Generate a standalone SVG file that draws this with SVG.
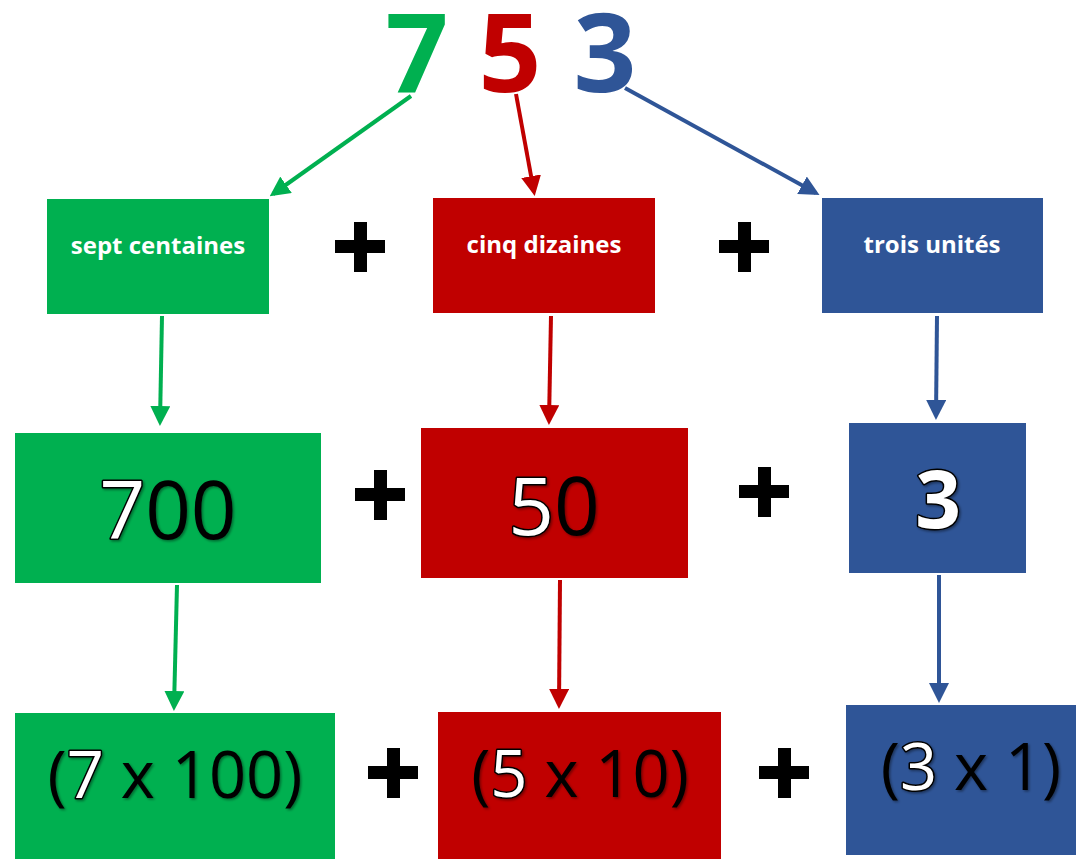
<svg xmlns="http://www.w3.org/2000/svg" width="1079" height="859" viewBox="0 0 1079 859">
<defs>
<style>
.g{fill:#00B050}.r{fill:#C00000}.b{fill:#2F5597}
.lbl{font-family:"Open Sans","Liberation Sans",sans-serif;font-weight:bold;font-size:24px;fill:#fff;text-anchor:middle}
.big{font-family:"Open Sans","Liberation Sans",sans-serif;font-size:80px;fill:#000;text-anchor:middle}
.mid{font-family:"Open Sans","Liberation Sans",sans-serif;font-size:65px;fill:#000;text-anchor:middle}
.wo{fill:#fff;stroke:#000;stroke-width:3;paint-order:stroke;stroke-linejoin:round}
.top{font-family:"Open Sans","Liberation Sans",sans-serif;font-weight:bold;font-size:110px;text-anchor:middle}
.plus{fill:#000}
.cg{stroke:#00B050;stroke-width:4;fill:none}
.cr{stroke:#C00000;stroke-width:4;fill:none}
.cb{stroke:#2F5597;stroke-width:4;fill:none}
</style>
<marker id="ag" markerWidth="5" markerHeight="5" refX="4" refY="2.5" orient="auto" markerUnits="strokeWidth"><path d="M0,0 L5,2.5 L0,5 Z" fill="#00B050"/></marker>
<marker id="ar" markerWidth="5" markerHeight="5" refX="4" refY="2.5" orient="auto" markerUnits="strokeWidth"><path d="M0,0 L5,2.5 L0,5 Z" fill="#C00000"/></marker>
<marker id="ab" markerWidth="5" markerHeight="5" refX="4" refY="2.5" orient="auto" markerUnits="strokeWidth"><path d="M0,0 L5,2.5 L0,5 Z" fill="#2F5597"/></marker>
<filter id="sh" x="-10%" y="-10%" width="130%" height="130%"><feDropShadow dx="1.5" dy="1.5" stdDeviation="1" flood-color="#000" flood-opacity="0.4"/></filter>
<symbol id="plus" viewBox="0 0 50 50"><rect x="19" y="0" width="13" height="50"/><rect x="0" y="18" width="50" height="13"/></symbol>
</defs>
<rect width="1079" height="859" fill="#fff"/>

<g id="digits">
<text class="top" x="417" y="92" fill="#00B050">7</text>
<text class="top" x="510" y="92" fill="#C00000">5</text>
<text class="top" x="605" y="92" fill="#2F5597">3</text>
</g>

<g id="connectors">
<path class="cg" d="M411,96 L273,194" marker-end="url(#ag)"/>
<path class="cr" d="M516,94 L534,192" marker-end="url(#ar)"/>
<path class="cb" d="M625,88 L816,193" marker-end="url(#ab)"/>
<path class="cg" d="M162,316 L160,422" marker-end="url(#ag)"/>
<path class="cr" d="M551,316 L549,421" marker-end="url(#ar)"/>
<path class="cb" d="M937,316 L936,416" marker-end="url(#ab)"/>
<path class="cg" d="M177,585 L174,707" marker-end="url(#ag)"/>
<path class="cr" d="M560,580 L559,705" marker-end="url(#ar)"/>
<path class="cb" d="M939,575 L939,699" marker-end="url(#ab)"/>
</g>

<g id="n-sept">
<rect class="g" x="47" y="199" width="222" height="115"/>
<text class="lbl" x="158" y="254">sept centaines</text>
</g>
<g id="n-cinq">
<rect class="r" x="433" y="198" width="222" height="115"/>
<text class="lbl" x="544" y="253">cinq dizaines</text>
</g>
<g id="n-trois">
<rect class="b" x="822" y="198" width="221" height="115"/>
<text class="lbl" x="932" y="253">trois unités</text>
</g>

<g id="n-700">
<rect class="g" x="15" y="433" width="306" height="150"/>
<text class="big" x="168" y="539" filter="url(#sh)"><tspan class="wo">7</tspan>00</text>
</g>
<g id="n-50">
<rect class="r" x="421" y="428" width="267" height="150"/>
<text class="big" x="554" y="535" filter="url(#sh)"><tspan class="wo">5</tspan>0</text>
</g>
<g id="n-3">
<rect class="b" x="849" y="423" width="177" height="150"/>
<text class="big" x="938" y="528" font-weight="bold" filter="url(#sh)"><tspan class="wo">3</tspan></text>
</g>

<g id="n-7x100">
<rect class="g" x="15" y="713" width="320" height="146"/>
<text class="mid" x="175" y="798" filter="url(#sh)">(<tspan class="wo">7</tspan> x 100)</text>
</g>
<g id="n-5x10">
<rect class="r" x="438" y="712" width="283" height="147"/>
<text class="mid" x="580" y="797" filter="url(#sh)">(<tspan class="wo">5</tspan> x 10)</text>
</g>
<g id="n-3x1">
<rect class="b" x="846" y="705" width="230" height="150"/>
<text class="mid" x="971" y="790" filter="url(#sh)">(<tspan class="wo">3</tspan> x 1)</text>
</g>

<g id="plus-signs" class="plus">
<use href="#plus" x="335" y="222" width="50" height="50"/>
<use href="#plus" x="719" y="222" width="50" height="50"/>
<use href="#plus" x="355" y="470" width="50" height="50"/>
<use href="#plus" x="739" y="467" width="50" height="50"/>
<use href="#plus" x="368" y="748" width="50" height="50"/>
<use href="#plus" x="759" y="748" width="50" height="50"/>
</g>
</svg>
